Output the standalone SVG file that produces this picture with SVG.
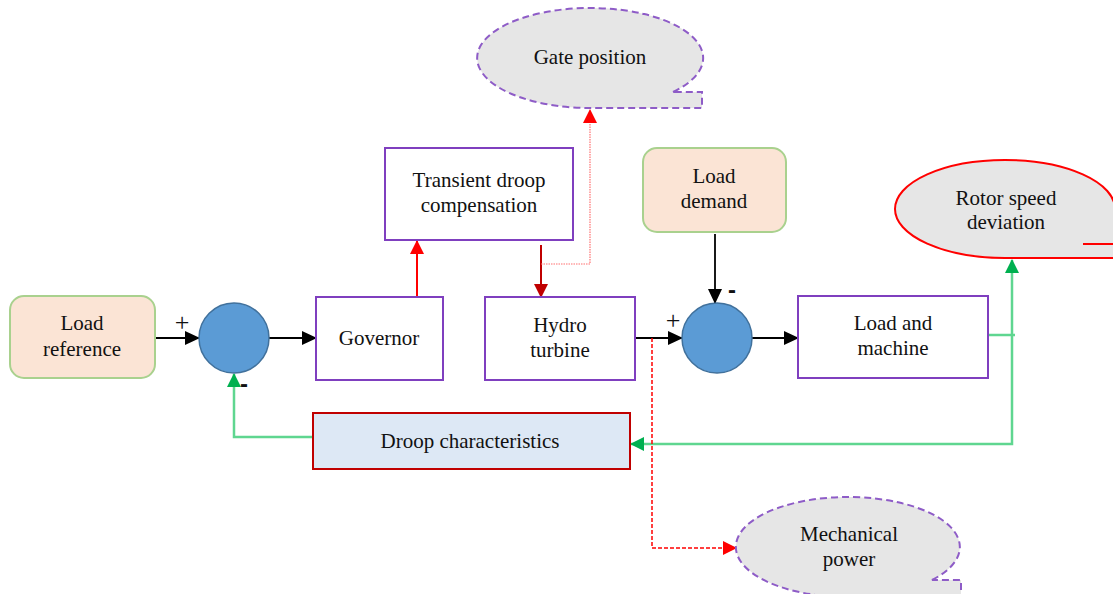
<svg xmlns="http://www.w3.org/2000/svg" width="1113" height="594" viewBox="0 0 1113 594">
<style>
text{font-family:"Liberation Serif","Times New Roman",serif;font-size:21px;fill:#111;text-anchor:middle}
.box{fill:#fff;stroke:#7f3fbf;stroke-width:2}
.term{fill:#fbe4d5;stroke:#a9d18e;stroke-width:2}
.sum{fill:#5b9bd5;stroke:#41719c;stroke-width:1.5}
.call{fill:#e6e6e6;stroke:#8e5cc7;stroke-width:2;stroke-dasharray:7,4}
.blk{fill:none;stroke:#000;stroke-width:1.8}
.grn{fill:none;stroke:#5fd690;stroke-width:2.5}
.sign{font-size:26px}
.minus{font-family:"Liberation Sans",Arial,sans-serif;font-size:24px;font-weight:bold}
</style>
<defs>
<marker id="ab" markerWidth="15" markerHeight="14" refX="14" refY="7" orient="auto" markerUnits="userSpaceOnUse"><path d="M0,0L15,7L0,14z" fill="#000"/></marker>
<marker id="ar" markerWidth="14" markerHeight="14" refX="13" refY="7" orient="auto" markerUnits="userSpaceOnUse"><path d="M0,0L14,7L0,14z" fill="#ff0000"/></marker>
<marker id="adr" markerWidth="14" markerHeight="14" refX="13" refY="7" orient="auto" markerUnits="userSpaceOnUse"><path d="M0,0L14,7L0,14z" fill="#c00000"/></marker>
<marker id="ag" markerWidth="14" markerHeight="14" refX="13" refY="7" orient="auto" markerUnits="userSpaceOnUse"><path d="M0,0L14,7L0,14z" fill="#00b050"/></marker>
</defs>

<g id="connectors">
<line class="blk" x1="155" y1="338" x2="199" y2="338" marker-end="url(#ab)"/>
<line class="blk" x1="269" y1="338" x2="316" y2="338" marker-end="url(#ab)"/>
<line x1="417" y1="297" x2="417" y2="241" stroke="#ff0000" stroke-width="2" marker-end="url(#ar)"/>
<line x1="541" y1="245" x2="541" y2="297" stroke="#c00000" stroke-width="2" marker-end="url(#adr)"/>
<polyline points="541,264 590,264 590,110" fill="none" stroke="#ff7070" stroke-width="1.2" stroke-dasharray="1.5,1" marker-end="url(#ar)"/>
<line class="blk" x1="635" y1="338" x2="682" y2="338" marker-end="url(#ab)"/>
<line class="blk" x1="715" y1="234" x2="715" y2="303" marker-end="url(#ab)"/>
<line class="blk" x1="752" y1="338" x2="798" y2="338" marker-end="url(#ab)"/>
<polyline class="grn" points="988,335 1015,335"/>
<polyline class="grn" points="1012,335 1012,260" marker-end="url(#ag)"/>
<polyline class="grn" points="1012,335 1012,444 631,444" marker-end="url(#ag)"/>
<polyline class="grn" points="313,437 234,437 234,374" marker-end="url(#ag)"/>
<polyline points="652,338 652,548 736,548" fill="none" stroke="#ff0000" stroke-width="1.5" stroke-dasharray="4,2" marker-end="url(#ar)"/>
<text class="sign" x="182" y="331">+</text>
<text class="minus" x="244" y="392">-</text>
<text class="sign" x="673" y="329">+</text>
<text class="minus" x="732" y="298">-</text>
</g>

<g id="load-reference">
<rect class="term" x="10" y="296" width="145" height="82" rx="14"/>
<text x="82" y="330">Load</text>
<text x="82" y="356">reference</text>
</g>
<g id="sum1"><circle class="sum" cx="234" cy="338" r="35"/></g>
<g id="governor">
<rect class="box" x="316" y="297" width="127" height="83"/>
<text x="379" y="345">Governor</text>
</g>
<g id="transient-droop">
<rect class="box" x="385" y="148" width="188" height="92"/>
<text x="479" y="187">Transient droop</text>
<text x="479" y="212">compensation</text>
</g>
<g id="hydro-turbine">
<rect class="box" x="485" y="297" width="150" height="83"/>
<text x="560" y="332">Hydro</text>
<text x="560" y="357">turbine</text>
</g>
<g id="load-demand">
<rect class="term" x="643" y="148" width="143" height="84" rx="14"/>
<text x="714" y="183">Load</text>
<text x="714" y="208">demand</text>
</g>
<g id="sum2"><circle class="sum" cx="717" cy="338" r="35"/></g>
<g id="load-machine">
<rect class="box" x="798" y="296" width="190" height="82"/>
<text x="893" y="330">Load and</text>
<text x="893" y="355">machine</text>
</g>
<g id="droop-characteristics">
<rect x="313" y="413" width="317" height="56" fill="#dde8f5" stroke="#c00000" stroke-width="2"/>
<text x="470" y="448">Droop characteristics</text>
</g>
<g id="gate-position">
<path class="call" d="M673,92 A113,50 0 1 0 590,108 L702,108 L702,92 Z"/>
<text x="590" y="64">Gate position</text>
</g>
<g id="rotor-speed">
<path d="M1083,244 A110,49 0 1 1 1115,209 L1120,209 L1120,258 L1005,258 A110,49 0 0 1 1083,244 Z" fill="#e6e6e6" stroke="none"/>
<path d="M1005,258 A110,49 0 1 1 1115,209" fill="none" stroke="#ff0000" stroke-width="2"/>
<path d="M1083,244 L1120,244 M1005,258 L1120,258" fill="none" stroke="#ff0000" stroke-width="2"/>
<text x="1006" y="205">Rotor speed</text>
<text x="1006" y="229">deviation</text>
</g>
<g id="mechanical-power">
<path class="call" d="M932,580 A112,50 0 1 0 849,597 L961,597 L961,580 Z"/>
<text x="849" y="541">Mechanical</text>
<text x="849" y="566">power</text>
</g>
</svg>
